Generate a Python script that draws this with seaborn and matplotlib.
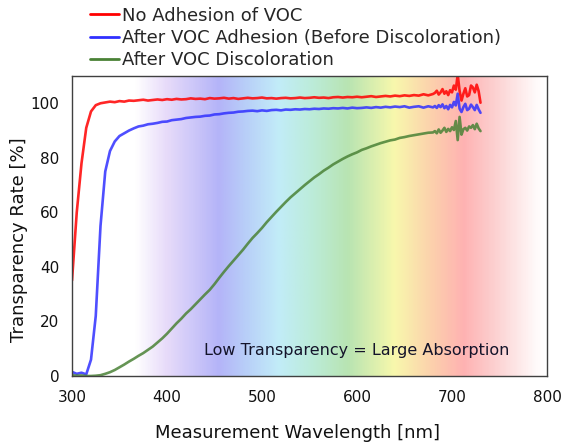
import numpy as np
import pandas as pd
import matplotlib
matplotlib.use("Agg")
import matplotlib.pyplot as plt
from matplotlib.colors import LinearSegmentedColormap
import seaborn as sns

# ---------------- data ----------------
wl_a = list(range(300, 681, 5))
wl_b = list(range(682, 731, 2))
wavelength = wl_a + wl_b

red_a = [35, 60, 78, 91, 97, 99.3, 100, 100.3, 100.6, 100.4, 100.8, 100.6, 101, 100.9, 101.1, 101.3,
         101, 101.2, 101.4, 101.2, 101.5, 101.3, 101.6, 101.4, 101.5, 101.8, 101.6, 101.7, 101.5, 101.9,
         101.7, 101.8, 102, 101.7, 101.9, 101.6, 101.8, 102, 101.8, 101.9, 102.1, 101.8, 101.9, 101.7,
         101.9, 102, 101.8, 101.9, 102.1, 101.9, 102, 102.2, 102, 102.1, 101.9, 102.2, 102.3, 102.1,
         102.3, 102.2, 102.4, 102.2, 102.4, 102.6, 102.3, 102.5, 102.7, 102.5, 102.8, 102.6, 102.9,
         102.7, 103.0, 102.8, 103.3, 102.9, 103.4]
red_b = [103.8, 104.6, 103.2, 104.0, 105.2, 103.5, 104.4, 103.0, 104.8, 104.0, 106.5, 105.0, 110.5,
         104.5, 101.0, 103.5, 105.5, 102.5, 103.0, 106.5, 105.8, 104.0, 106.8, 104.5, 100.2]
no_adhesion = red_a + red_b

blue_a = [1.5, 0.8, 1.2, 0.6, 6, 22, 55, 75, 82.5, 86, 88, 89, 90, 90.8, 91.5, 91.8, 92.3, 92.5, 92.8,
          93.2, 93.3, 93.8, 94, 94.2, 94.6, 94.8, 95, 95.1, 95.4, 95.5, 95.9, 96, 96.3, 96.5, 96.6, 96.9,
          97, 97.2, 97.3, 97.1, 97.4, 97.2, 97.5, 97.6, 97.4, 97.7, 97.6, 97.8, 97.7, 97.9, 97.8, 98,
          97.9, 98.1, 98, 98.2, 98.1, 98.3, 98.1, 98.4, 98.2, 98.3, 98.5, 98.3, 98.6, 98.4, 98.7, 98.5,
          98.8, 98.6, 98.9, 98.4, 98.7, 98.9, 98.4, 98.9, 98.5]
blue_b = [99.0, 98.3, 99.3, 98.6, 99.6, 98.2, 99.0, 97.8, 99.4, 98.5, 100.5, 99.2, 103.5, 98.0, 96.8,
          98.6, 99.8, 97.5, 98.0, 99.5, 98.6, 97.5, 99.4, 97.8, 96.5]
after_adhesion = blue_a + blue_b

green_a = [0.3, 0.1, 0.2, 0, 0, 0.1, 0.3, 0.8, 1.4, 2.2, 3.2, 4.2, 5.3, 6.3, 7.4, 8.4, 9.6, 10.8, 12.3,
           13.8, 15.5, 17.4, 19.3, 21.0, 22.9, 24.5, 26.3, 28.1, 29.9, 31.6, 33.7, 36, 38.2, 40.3, 42.3,
           44.3, 46.3, 48.5, 50.6, 52.4, 54.3, 56.4, 58.3, 60.2, 62.0, 63.8, 65.5, 67.0, 68.5, 70.0, 71.4,
           72.8, 74.0, 75.3, 76.4, 77.6, 78.6, 79.6, 80.5, 81.3, 82.0, 82.9, 83.5, 84.2, 84.8, 85.4, 85.9,
           86.4, 86.7, 87.3, 87.6, 88.0, 88.3, 88.6, 88.9, 89.2, 89.3]
green_b = [89.8, 89.0, 90.4, 89.2, 90.0, 91.0, 89.5, 90.6, 89.8, 91.2, 90.2, 93.5, 86.5, 95.0, 88.5,
           90.5, 91.0, 90.0, 91.5, 91.0, 92.0, 90.5, 92.5, 90.8, 89.8]
after_discoloration = green_a + green_b

series_names = ["No Adhesion of VOC",
                "After VOC Adhesion (Before Discoloration)",
                "After VOC Discoloration"]
series_colors = ["#ff0000", "#3030ff", "#4a8236"]

x_ticks = [300, 400, 500, 600, 700, 800]
y_ticks = [0, 20, 40, 60, 80, 100]

# background spectrum colour stops (wavelength, colour)
bg_stops_nm = [300, 366, 398, 454, 482, 517, 552, 591, 640, 678, 713, 748, 790, 800]
bg_stops_col = ["#ffffff", "#ffffff", "#e8dcfa", "#b4b4f8", "#b8cef8", "#c2ecf8", "#bcecda",
                "#b8e4b2", "#f8f8ac", "#fcd2ac", "#ffb2b2", "#fcd2d2", "#fffafa", "#ffffff"]

# --------------- plot ----------------
sns.set_theme(style="white")
plt.rcParams["font.family"] = ["DejaVu Sans"]

df = pd.DataFrame({
    "Wavelength": wavelength * 3,
    "Rate": no_adhesion + after_adhesion + after_discoloration,
    "Series": [series_names[0]] * len(wavelength) + [series_names[1]] * len(wavelength)
              + [series_names[2]] * len(wavelength),
})

fig = plt.figure(figsize=(5.63, 4.43), dpi=100)
ax = fig.add_axes([72 / 563, 67 / 443, 475 / 563, 300 / 443])

lo, hi = bg_stops_nm[0], bg_stops_nm[-1]
cmap = LinearSegmentedColormap.from_list(
    "spec", [((n - lo) / (hi - lo), c) for n, c in zip(bg_stops_nm, bg_stops_col)])
grad = np.linspace(0, 1, 600)[None, :]
ax.imshow(grad, cmap=cmap, extent=[300, 800, 0, 110], aspect="auto", zorder=0,
          interpolation="bilinear")

sns.lineplot(data=df, x="Wavelength", y="Rate", hue="Series", hue_order=series_names,
             palette=dict(zip(series_names, series_colors)), linewidth=1.9, alpha=0.85,
             ax=ax, legend=False, zorder=2, sort=False, estimator=None)

ax.set_xlim(300, 800)
ax.set_ylim(0, 110)
ax.set_xticks(x_ticks)
ax.set_yticks(y_ticks)
ax.tick_params(axis="y", direction="out", length=4.5, width=1, color="#404040",
               labelsize=11, pad=4.5, labelcolor="#111111")
ax.tick_params(axis="x", length=0, labelsize=11, pad=10, labelcolor="#111111")
for s in ax.spines.values():
    s.set_color("#404040")
    s.set_linewidth(1.0)
ax.set_xlabel("Measurement Wavelength [nm]", fontsize=13, color="#111111")
ax.set_ylabel("Transparency Rate [%]", fontsize=13, color="#111111")
ax.xaxis.set_label_coords((297.5 - 72) / 475, -(424 - 376) / 300)
ax.yaxis.set_label_coords((28 - 72) / 475, (376 - 240) / 300)

ax.text(600, 9.5, "Low Transparency = Large Absorption", fontsize=11.5, color="#14142a",
        ha="center", va="center", zorder=3)

handles = [plt.Line2D([], [], color=c, lw=2.0) for c in series_colors]
fig.legend(handles, series_names, loc="upper left", bbox_to_anchor=(86 / 563, 1 - 3 / 443),
           frameon=False, fontsize=13, handlelength=1.65, handletextpad=0.15,
           labelspacing=0.24, borderaxespad=0, borderpad=0.2)

fig.savefig("out.png", dpi=100)
